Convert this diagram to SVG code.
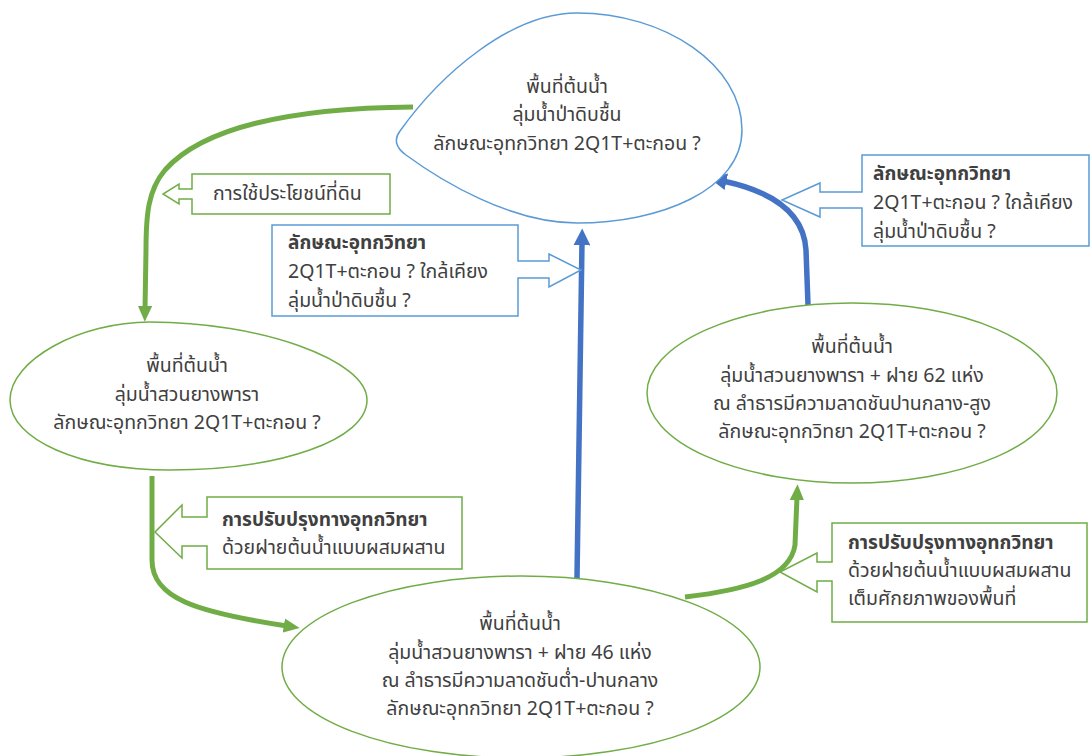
<svg xmlns="http://www.w3.org/2000/svg" width="1091" height="756" viewBox="0 0 1091 756">
<style>
text{font-family:"Noto Sans Thai","Noto Sans","Liberation Sans",sans-serif;font-size:19.5px;fill:#404040}
.c{text-anchor:middle}
.b{font-weight:bold;font-size:19px}
.nb{fill:#fff;stroke:#5B9BD5;stroke-width:1.5}
.ng{fill:#fff;stroke:#70AD47;stroke-width:1.5}
.cb{fill:#fff;stroke:#5B9BD5;stroke-width:1.5}
.cg{fill:#fff;stroke:#70AD47;stroke-width:1.5}
.eg{fill:none;stroke:#70AD47;stroke-width:5}
.eb{fill:none;stroke:#4472C4;stroke-width:5.5}
</style>
<defs>
<marker id="ag" viewBox="0 0 10 10" refX="2" refY="5" markerWidth="16" markerHeight="16" markerUnits="userSpaceOnUse" orient="auto"><path d="M0,0.5 L10,5 L0,9.5 z" fill="#70AD47"/></marker>
<marker id="ab" viewBox="0 0 10 10" refX="2" refY="5" markerWidth="17" markerHeight="17" markerUnits="userSpaceOnUse" orient="auto"><path d="M0,0 L10,5 L0,10 z" fill="#4472C4"/></marker>
</defs>
<rect width="1091" height="756" fill="#fff"/>
<g id="connectors">
<path class="eg" d="M413,107 C300,108 205,125 165,170 C148,190 146,215 146,250 L145,309" marker-end="url(#ag)"/>
<path class="eg" d="M152,476 L152,560 C152,598 195,612 287,626" marker-end="url(#ag)"/>
<path class="eb" d="M577,578 L582,242" marker-end="url(#ab)"/>
<path class="eb" d="M808,305 L806,250 C804,215 775,192 723,181" marker-end="url(#ab)"/>
<path class="eg" d="M685,597 C745,590 790,578 795,545 L797,497" marker-end="url(#ag)"/>
</g>
<g id="node-top">
<path class="nb" d="M400,131 C440,75 510,13 577,13 C665,13 742,65 742,130 C742,190 660,223 577,223 C510,223 440,180 406,155 C395,147 394,139 400,131 Z"/>
<text class="c" x="567" y="93">พื้นที่ต้นน้ำ</text>
<text class="c" x="567" y="121">ลุ่มน้ำป่าดิบชื้น</text>
<text class="c" x="567" y="150">ลักษณะอุทกวิทยา 2Q1T+ตะกอน ?</text>
</g>
<g id="node-left">
<path class="ng" d="M10,400 C10,360 80,322 150,322 C260,322 367,360 367,400 C367,440 280,470 170,470 C80,470 10,440 10,400 Z"/>
<text class="c" x="187" y="372">พื้นที่ต้นน้ำ</text>
<text class="c" x="187" y="401">ลุ่มน้ำสวนยางพารา</text>
<text class="c" x="187" y="429">ลักษณะอุทกวิทยา 2Q1T+ตะกอน ?</text>
</g>
<g id="node-right">
<ellipse class="ng" cx="852" cy="393" rx="205" ry="90"/>
<text class="c" x="852" y="353">พื้นที่ต้นน้ำ</text>
<text class="c" x="852" y="382">ลุ่มน้ำสวนยางพารา + ฝาย 62 แห่ง</text>
<text class="c" x="852" y="410">ณ ลำธารมีความลาดชันปานกลาง-สูง</text>
<text class="c" x="852" y="438">ลักษณะอุทกวิทยา 2Q1T+ตะกอน ?</text>
</g>
<g id="node-bottom">
<ellipse class="ng" cx="521" cy="667" rx="239" ry="91"/>
<text class="c" x="520" y="630">พื้นที่ต้นน้ำ</text>
<text class="c" x="520" y="659">ลุ่มน้ำสวนยางพารา + ฝาย 46 แห่ง</text>
<text class="c" x="520" y="687">ณ ลำธารมีความลาดชันต่ำ-ปานกลาง</text>
<text class="c" x="520" y="715">ลักษณะอุทกวิทยา 2Q1T+ตะกอน ?</text>
</g>
<g id="callout-landuse">
<path class="cg" d="M192,174 H390 V214 H192 V199 H179 V204 L163,194 L179,184 V189 H192 Z"/>
<text x="213" y="200">การใช้ประโยชน์ที่ดิน</text>
</g>
<g id="callout-hydro-mid">
<path class="cb" d="M272,225 H518 V261 H549 V254 L581,270 L549,287 V278 H518 V316 H272 Z"/>
<text class="b" x="288" y="249">ลักษณะอุทกวิทยา</text>
<text x="288" y="278">2Q1T+ตะกอน ? ใกล้เคียง</text>
<text x="288" y="307">ลุ่มน้ำป่าดิบชื้น ?</text>
</g>
<g id="callout-hydro-right">
<path class="cb" d="M862,155 H1089 V246 H862 V208 H820 V217 L782,200 L820,183 V192 H862 Z"/>
<text class="b" x="873" y="180">ลักษณะอุทกวิทยา</text>
<text x="873" y="209">2Q1T+ตะกอน ? ใกล้เคียง</text>
<text x="873" y="238">ลุ่มน้ำป่าดิบชื้น ?</text>
</g>
<g id="callout-improve-left">
<path class="cg" d="M207,497 H462 V569 H207 V546 H182 V558 L155,532 L182,505 V517 H207 Z"/>
<text class="b" x="222" y="526">การปรับปรุงทางอุทกวิทยา</text>
<text x="222" y="554">ด้วยฝายต้นน้ำแบบผสมผสาน</text>
</g>
<g id="callout-improve-right">
<path class="cg" d="M832,523 H1087 V622 H832 V581 H817 V592 L780,572 L817,553 V562 H832 Z"/>
<text class="b" x="848" y="549">การปรับปรุงทางอุทกวิทยา</text>
<text x="848" y="577">ด้วยฝายต้นน้ำแบบผสมผสาน</text>
<text x="848" y="605">เต็มศักยภาพของพื้นที่</text>
</g>
</svg>
